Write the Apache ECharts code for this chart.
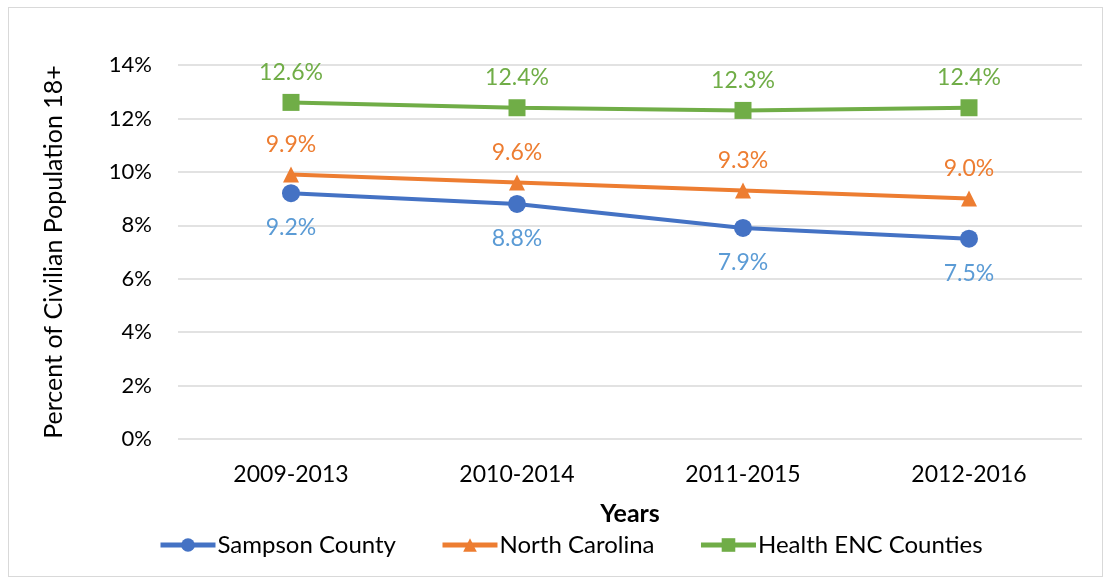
<!DOCTYPE html>
<html>
<head>
<meta charset="utf-8">
<script src="https://cdn.jsdelivr.net/npm/echarts@6/dist/echarts.min.js"></script>
<style>
	html, body { margin: 0; padding: 0; background: #fff; }
	#frame {
		position: absolute; left: 8px; top: 7px; width: 1095px; height: 570px;
		border: 1px solid #d9d9d9; box-sizing: border-box;
	}
	#chart { position: absolute; left: 0; top: 0; width: 1109px; height: 581px; }
</style>
</head>
<body>
<div id="frame"></div>
<div id="chart"></div>
<script>
const years = ["2009-2013", "2010-2014", "2011-2015", "2012-2016"];
const sampson = [9.2, 8.8, 7.9, 7.5];
const northCarolina = [9.9, 9.6, 9.3, 9.0];
const healthEnc = [12.6, 12.4, 12.3, 12.4];
const yTicks = [0, 2, 4, 6, 8, 10, 12, 14];

const FONT = "Lato, 'Open Sans', sans-serif";

function lineSeries(name, data, color, labelColor, symbol, size, pos, dist) {
	return {
		name: name,
		type: "line",
		data: data,
		symbol: symbol,
		symbolSize: size,
		lineStyle: { width: 4, color: color },
		itemStyle: { color: color },
		label: {
			show: true,
			position: pos,
			distance: dist,
			color: labelColor,
			fontFamily: FONT,
			fontSize: 23,
			formatter: p => p.value.toFixed(1) + "%",
		},
	};
}

const myChart = echarts.init(document.getElementById("chart"));
myChart.setOption({
	animation: false,
	grid: { left: 178, right: 27, top: 65, bottom: 142 },
	legend: {
		bottom: 19,
		left: 153,
		itemWidth: 55,
		itemHeight: 17,
		itemGap: 44,
		lineStyle: { width: 5 },
		textStyle: { fontFamily: FONT, fontSize: 24, color: "#000", padding: [0, 0, 0, -3] },
		data: ["Sampson County", "North Carolina", "Health ENC Counties"],
	},
	xAxis: {
		type: "category",
		data: years,
		boundaryGap: true,
		name: "Years",
		nameLocation: "middle",
		nameGap: 62,
		nameTextStyle: { fontFamily: FONT, fontSize: 25, fontWeight: "bold", color: "#000" },
		axisLine: { show: false },
		axisTick: { show: false },
		axisLabel: { fontFamily: FONT, fontSize: 23, color: "#000", margin: 24 },
	},
	yAxis: {
		type: "value",
		min: yTicks[0],
		max: yTicks[yTicks.length - 1],
		interval: 2,
		name: "Percent of Civilian Population 18+",
		nameLocation: "middle",
		nameGap: 112,
		nameTextStyle: { fontFamily: FONT, fontSize: 25, color: "#000" },
		axisLine: { show: false },
		axisTick: { show: false },
		axisLabel: { fontFamily: FONT, fontSize: 22, color: "#000", margin: 26, formatter: "{value}%" },
		splitLine: { lineStyle: { color: "#d9d9d9", width: 1.5 } },
	},
	series: [
		lineSeries("Sampson County", sampson, "#4472c4", "#5b9bd5", "circle", 18, "bottom", 14),
		lineSeries("North Carolina", northCarolina, "#ed7d31", "#ed7d31", "triangle", 16, "top", 10),
		lineSeries("Health ENC Counties", healthEnc, "#70ad47", "#70ad47", "rect", 17, "top", 10),
	],
});
</script>
</body>
</html>
